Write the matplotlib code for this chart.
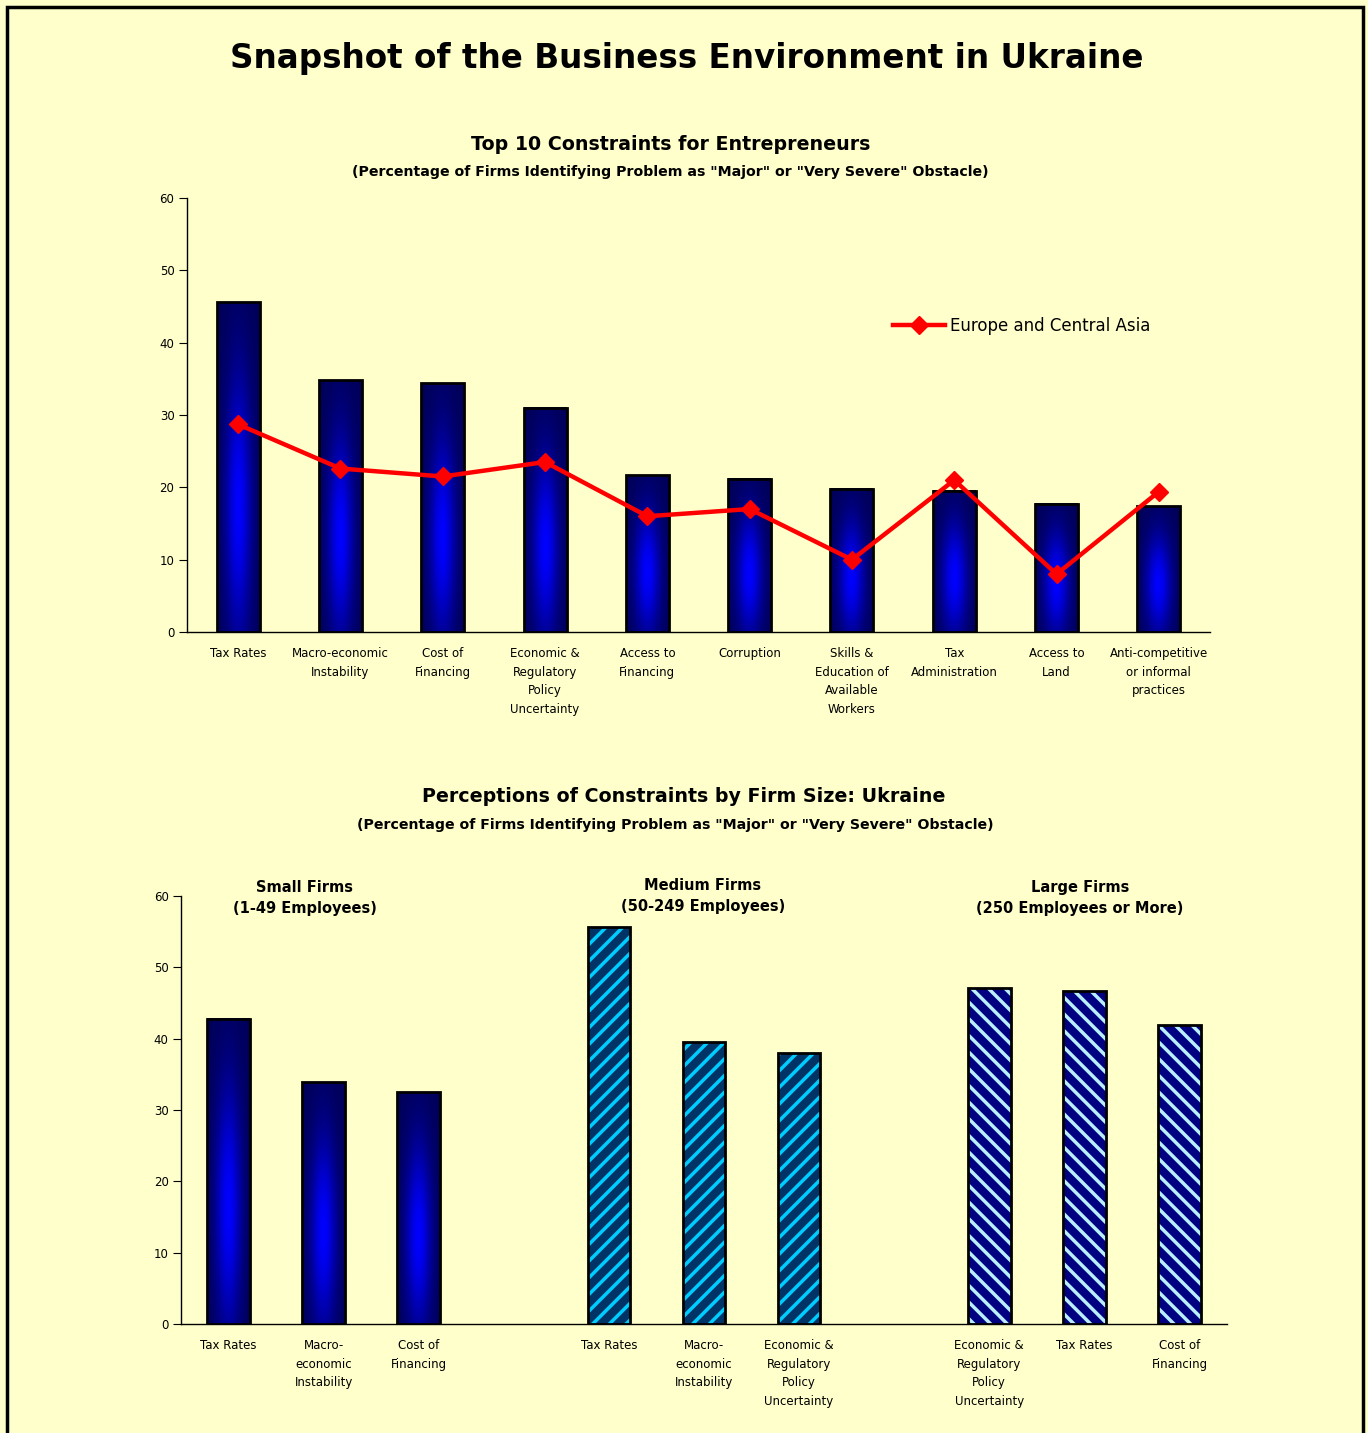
import numpy as np
import matplotlib
matplotlib.use("Agg")
import matplotlib.pyplot as plt
from matplotlib.patches import Rectangle

# donnees du graphique du haut
categories = ["Tax Rates", "Macro-economic\nInstability", "Cost of\nFinancing",
              "Economic &\nRegulatory\nPolicy\nUncertainty", "Access to\nFinancing",
              "Corruption", "Skills &\nEducation of\nAvailable\nWorkers",
              "Tax\nAdministration", "Access to\nLand",
              "Anti-competitive\nor informal\npractices"]
ukraine = [45.6, 34.8, 34.4, 31.0, 21.7, 21.2, 19.8, 19.5, 17.7, 17.4]
eca = [28.7, 22.6, 21.5, 23.5, 16.0, 17.0, 10.0, 21.0, 8.0, 19.4]

# donnees du graphique du bas
small_labels = ["Tax Rates", "Macro-\neconomic\nInstability", "Cost of\nFinancing"]
small_values = [42.8, 33.9, 32.5]
medium_labels = ["Tax Rates", "Macro-\neconomic\nInstability",
                 "Economic &\nRegulatory\nPolicy\nUncertainty"]
medium_values = [55.7, 39.5, 38.0]
large_labels = ["Economic &\nRegulatory\nPolicy\nUncertainty", "Tax Rates", "Cost of\nFinancing"]
large_values = [47.1, 46.7, 41.9]

BG = "#FFFFCC"
plt.rcParams["font.family"] = ["DejaVu Sans"]
plt.rcParams["hatch.linewidth"] = 2.5


def gradient_image():
    x = np.linspace(0, 1, 64)
    y = np.linspace(0, 1, 128)
    hx = np.exp(-((x - 0.5) / 0.30) ** 2)
    gy = np.exp(-((y - 0.62) / 0.40) ** 2)
    t = np.outer(gy, hx)
    dark = np.array([0.0, 0.0, 0.35])
    bright = np.array([0.0, 0.0, 1.0])
    return dark + (bright - dark) * t[..., None]


GRAD = gradient_image()


def gradient_bars(ax, x, vals, width):
    bars = ax.bar(x, vals, width=width, color="none", edgecolor="black", linewidth=2, zorder=3)
    for b in bars:
        x0, w, h = b.get_x(), b.get_width(), b.get_height()
        ax.imshow(GRAD, extent=(x0, x0 + w, 0, h), aspect="auto", origin="upper", zorder=2)
    return bars


def hatched_bars(ax, x, vals, width, face, stripe, hatch):
    ax.bar(x, vals, width=width, color=face, edgecolor=stripe, hatch=hatch, linewidth=0, zorder=2)
    ax.bar(x, vals, width=width, fill=False, edgecolor="black", linewidth=2, zorder=3)


def style_axis(ax):
    ax.set_facecolor(BG)
    for s in ["top", "right"]:
        ax.spines[s].set_visible(False)
    ax.spines["left"].set_linewidth(1)
    ax.spines["bottom"].set_linewidth(1)
    ax.tick_params(axis="y", direction="out", length=6, labelsize=8.5, pad=3)
    ax.tick_params(axis="x", length=0, labelsize=8.5, pad=11)
    ax.set_ylim(0, 60)
    ax.set_yticks(range(0, 61, 10))


fig = plt.figure(figsize=(13.68, 14.33), dpi=100, facecolor=BG)

# cadre noir autour de la page
fig.patches.append(Rectangle((7 / 1368, -0.02), 1356 / 1368, 1 - 7 / 1433 + 0.02,
                             transform=fig.transFigure, fill=False, edgecolor="black",
                             linewidth=2.5))

fig.text(0.502, 0.959, "Snapshot of the Business Environment in Ukraine",
         ha="center", va="center", fontsize=23.5, fontweight="bold")

# graphique du haut
ax1 = fig.add_axes([187 / 1368, 1 - 632 / 1433, 1023 / 1368, 434 / 1433])
style_axis(ax1)
x1 = np.arange(len(categories))
gradient_bars(ax1, x1, ukraine, 0.42)
ax1.plot(x1, eca, color="#FF0000", linewidth=3.2, marker="D", markersize=9, zorder=4,
         label="Europe and Central Asia")
ax1.set_xticks(x1)
ax1.set_xticklabels(categories, linespacing=1.55, va="top")
ax1.set_xlim(-0.5, 9.5)
ax1.set_ylim(0, 60)
ax1.legend(loc="center left", bbox_to_anchor=(0.690, 0.706), frameon=False, fontsize=12,
           handlelength=3.1, handletextpad=0.3, borderpad=0, borderaxespad=0)

fig.text(0.490, 0.899, "Top 10 Constraints for Entrepreneurs", ha="center", va="center",
         fontsize=13.7, fontweight="bold")
fig.text(0.490, 0.880, '(Percentage of Firms Identifying Problem as "Major" or "Very Severe" Obstacle)',
         ha="center", va="center", fontsize=10.2, fontweight="bold")

# graphique du bas
ax2 = fig.add_axes([181 / 1368, 1 - 1324 / 1433, 1046 / 1368, 428 / 1433])
style_axis(ax2)
xs = np.array([0, 1, 2])
xm = np.array([4, 5, 6])
xl = np.array([8, 9, 10])
gradient_bars(ax2, xs, small_values, 0.45)
hatched_bars(ax2, xm, medium_values, 0.45, "#003366", "#00CCFF", "//")
hatched_bars(ax2, xl, large_values, 0.45, "#000080", "#B8EEFF", "\\\\")
ax2.set_xticks(np.concatenate([xs, xm, xl]))
ax2.set_xticklabels(small_labels + medium_labels + large_labels, linespacing=1.55, va="top")
ax2.set_xlim(-0.5, 10.5)
ax2.set_ylim(0, 60)

fig.text(0.500, 0.444, "Perceptions of Constraints by Firm Size: Ukraine", ha="center",
         va="center", fontsize=13.7, fontweight="bold")
fig.text(0.494, 0.424, '(Percentage of Firms Identifying Problem as "Major" or "Very Severe" Obstacle)',
         ha="center", va="center", fontsize=10.2, fontweight="bold")

group_titles = ["Small Firms\n(1-49 Employees)", "Medium Firms\n(50-249 Employees)",
                "Large Firms\n(250 Employees or More)"]
group_pos = [(305, 898), (703, 896), (1080, 898)]
for t, (px, py) in zip(group_titles, group_pos):
    fig.text(px / 1368, 1 - py / 1433, t, ha="center", va="center", fontsize=10.5,
             fontweight="bold", linespacing=1.5)

fig.savefig("out.png", dpi=100, facecolor=BG)
